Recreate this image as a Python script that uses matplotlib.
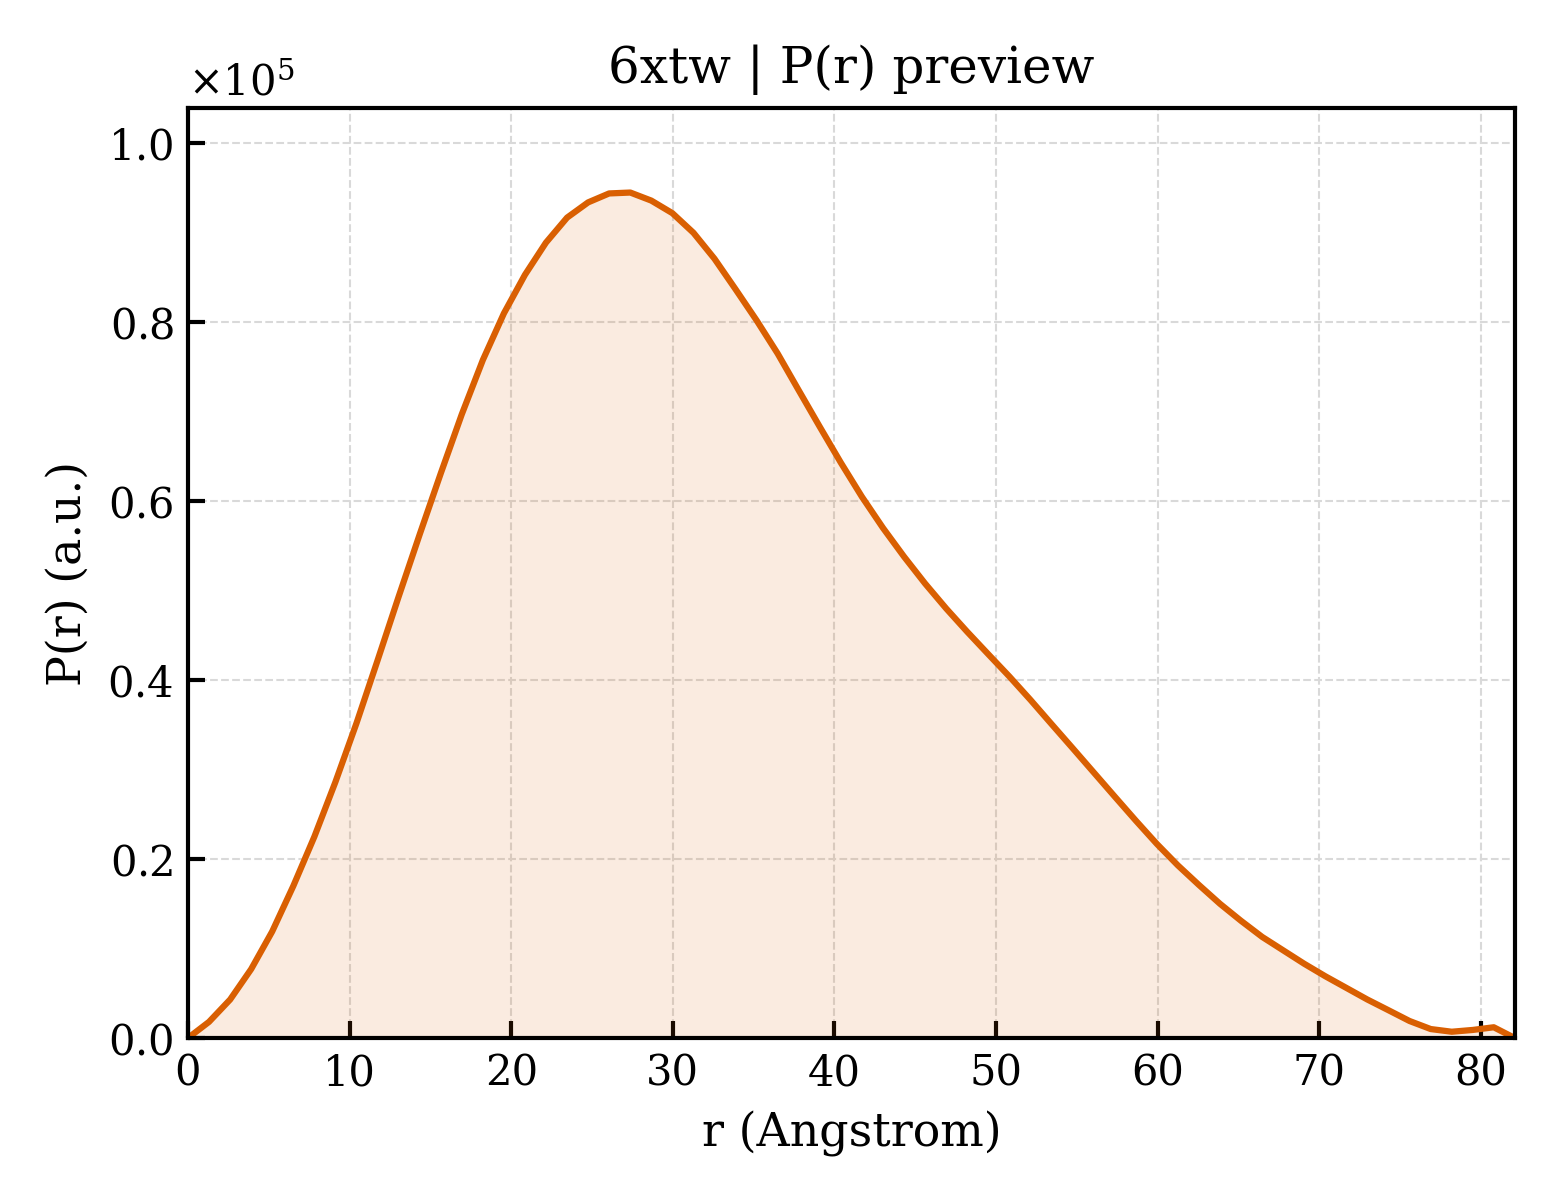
import matplotlib
matplotlib.use('Agg')
from matplotlib import pyplot as plt
from matplotlib.ticker import ScalarFormatter

# r grid (Angstrom), 64 points up to Dmax
r = [0.00, 1.30, 2.61, 3.91, 5.21, 6.52, 7.82, 9.12, 10.43, 11.73,
     13.03, 14.34, 15.64, 16.94, 18.25, 19.55, 20.85, 22.15, 23.46, 24.76,
     26.06, 27.37, 28.67, 29.97, 31.28, 32.58, 33.88, 35.19, 36.49, 37.79,
     39.10, 40.40, 41.70, 43.01, 44.31, 45.61, 46.92, 48.22, 49.52, 50.83,
     52.13, 53.43, 54.74, 56.04, 57.34, 58.65, 59.95, 61.25, 62.56, 63.86,
     65.16, 66.47, 67.77, 69.07, 70.38, 71.68, 72.98, 74.29, 75.59, 76.90,
     78.20, 79.50, 80.80, 82.10]

# P(r) in units of 1e5
pr = [0.000, 0.018, 0.043, 0.077, 0.119, 0.170, 0.225, 0.286, 0.352, 0.422,
      0.493, 0.563, 0.631, 0.697, 0.758, 0.810, 0.853, 0.889, 0.917, 0.934,
      0.944, 0.945, 0.936, 0.922, 0.900, 0.871, 0.837, 0.802, 0.765, 0.724,
      0.683, 0.643, 0.605, 0.570, 0.538, 0.508, 0.480, 0.454, 0.429, 0.404,
      0.378, 0.351, 0.324, 0.297, 0.270, 0.243, 0.217, 0.193, 0.171, 0.150,
      0.131, 0.113, 0.098, 0.083, 0.069, 0.056, 0.043, 0.031, 0.019, 0.010,
      0.007, 0.009, 0.012, 0.000]
pr = [v * 1e5 for v in pr]

COLOR = '#d95f02'

plt.rcParams['font.family'] = 'DejaVu Serif'
plt.rcParams['mathtext.fontset'] = 'dejavuserif'
plt.rcParams['axes.linewidth'] = 1.0

fig, ax = plt.subplots(figsize=(5.2, 4), dpi=300)
fig.subplots_adjust(left=0.1205, right=0.971, bottom=0.135, top=0.91)

ax.fill_between(r, pr, 0, color=COLOR, alpha=0.12, linewidth=0)
ax.plot(r, pr, color=COLOR, lw=1.5)

ax.set_xlim(0, r[-1])
ax.set_ylim(0, max(pr) * 1.1)

fmt = ScalarFormatter(useMathText=True)
fmt.set_powerlimits((0, 0))
ax.yaxis.set_major_formatter(fmt)

ax.tick_params(direction='in', length=4, width=1.0, labelsize=10, top=False, right=False)
ax.yaxis.get_offset_text().set_fontsize(10)
ax.grid(True, ls='--', lw=0.5, color='0.85')
ax.set_axisbelow(True)

ax.set_xlabel('r (Angstrom)', fontsize=11)
ax.set_ylabel('P(r) (a.u.)', fontsize=11)
ax.set_title('6xtw | P(r) preview', fontsize=12)

fig.savefig('out.png', dpi=300)
